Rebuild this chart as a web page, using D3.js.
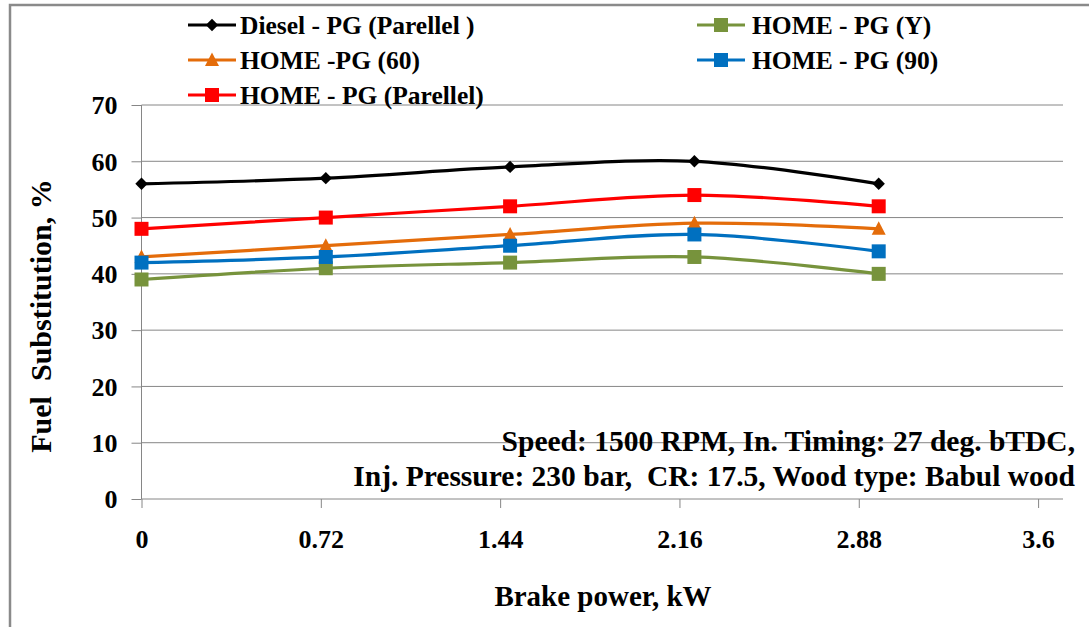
<!DOCTYPE html>
<html>
<head>
<meta charset="utf-8">
<script src="https://cdn.jsdelivr.net/npm/d3@7"></script>
<style>
  html, body { margin: 0; padding: 0; background: #fff; }
  svg { display: block; }
  svg text { font-family: "Liberation Serif", Tinos, "Times New Roman", "DejaVu Serif", serif !important; font-weight: bold; fill: #000; }
</style>
</head>
<body>
<svg id="chart" width="1089" height="627"></svg>
<script>
// Brake power (kW) at each load step
const brakePower = [0, 0.74, 1.48, 2.22, 2.96];

// Fuel substitution (%) for each fuel / gasifier configuration
const dieselPGParallel = [56, 57, 59, 60, 56];
const homePGY          = [39, 41, 42, 43, 40];
const homePG60         = [43, 45, 47, 49, 48];
const homePG90         = [42, 43, 45, 47, 44];
const homePGParallel   = [48, 50, 52, 54, 52];

const seriesNames = ["Diesel - PG (Parellel )", "HOME - PG (Y)", "HOME -PG (60)", "HOME - PG (90)", "HOME - PG (Parellel)"];

// Axis ticks
const xTicks = [0, 0.72, 1.44, 2.16, 2.88, 3.6];
const xTickLabels = ["0", "0.72", "1.44", "2.16", "2.88", "3.6"];
const yTicks = [0, 10, 20, 30, 40, 50, 60, 70];

const series = [
  { name: seriesNames[0], values: dieselPGParallel, color: "#000000", symbol: "diamond" },
  { name: seriesNames[1], values: homePGY,          color: "#77933C", symbol: "square" },
  { name: seriesNames[2], values: homePG60,         color: "#E46C0A", symbol: "triangle" },
  { name: seriesNames[3], values: homePG90,         color: "#0070C0", symbol: "square" },
  { name: seriesNames[4], values: homePGParallel,   color: "#FF0000", symbol: "square" }
];

const FONT = "'Liberation Serif', Tinos, 'Times New Roman', 'DejaVu Serif', serif";
const svg = d3.select("#chart");
const gridColor = "#868686";

// Outer frame
svg.append("rect")
  .attr("x", 10).attr("y", 5)
  .attr("width", 1200).attr("height", 700)
  .attr("fill", "none").attr("stroke", "#8a8a8a").attr("stroke-width", 2.5);

const plot = { left: 141.5, right: 1063, top: 105, bottom: 499 };

const x = d3.scaleLinear().domain([0, 3.7]).range([plot.left, plot.right]);
const y = d3.scaleLinear().domain([0, 70]).range([plot.bottom, plot.top]);

// Horizontal gridlines
svg.append("g")
  .selectAll("line")
  .data(yTicks.filter(d => d > 0))
  .join("line")
  .attr("x1", plot.left).attr("x2", plot.right)
  .attr("y1", d => y(d)).attr("y2", d => y(d))
  .attr("stroke", gridColor).attr("stroke-width", 1);

// Y axis
const yAxis = svg.append("g")
  .attr("transform", `translate(${plot.left},0)`)
  .call(d3.axisLeft(y).tickValues(yTicks).tickSize(10).tickPadding(14).tickFormat(d3.format("d")));
yAxis.attr("font-family", FONT).attr("font-size", 26);
yAxis.select(".domain").attr("stroke", gridColor).attr("d", `M0,${plot.top}V${plot.bottom}`);
yAxis.selectAll(".tick line").attr("stroke", gridColor);
yAxis.selectAll(".tick text").attr("dy", "0.34em");

// X axis
const xAxis = svg.append("g")
  .attr("transform", `translate(0,${plot.bottom})`)
  .call(d3.axisBottom(x).tickValues(xTicks).tickSize(9).tickPadding(22)
    .tickFormat((d, i) => xTickLabels[i]));
xAxis.attr("font-family", FONT).attr("font-size", 26);
xAxis.select(".domain").attr("stroke", gridColor).attr("d", `M${plot.left},0H${plot.right}`);
xAxis.selectAll(".tick line").attr("stroke", gridColor);
xAxis.selectAll(".tick text").attr("dy", "0.71em");

// Axis titles
svg.append("text")
  .attr("x", 603).attr("y", 606)
  .attr("text-anchor", "middle")
  .attr("font-family", FONT)
  .attr("font-size", 29)
  .text("Brake power, kW");

svg.append("text")
  .attr("transform", "translate(51,316) rotate(-90)")
  .attr("text-anchor", "middle")
  .attr("font-family", FONT)
  .attr("font-size", 30)
  .style("white-space", "pre")
  .text("Fuel  Substitution, %");

// Operating conditions note
const note = svg.append("text")
  .attr("text-anchor", "end")
  .attr("font-family", FONT)
  .attr("font-size", 29.5)
  .style("white-space", "pre");
note.append("tspan").attr("x", 1075).attr("y", 451)
  .text("Speed: 1500 RPM, In. Timing: 27 deg. bTDC,");
note.append("tspan").attr("x", 1075).attr("y", 486)
  .text("Inj. Pressure: 230 bar,  CR: 17.5, Wood type: Babul wood");

// Marker shapes
function markerPath(symbol) {
  if (symbol === "diamond") return d3.symbol().type(d3.symbolDiamond2).size(98)();
  if (symbol === "triangle") return "M0,-7.5L7,6L-7,6Z";
  return "M-7,-7H7V7H-7Z";
}

const line = d3.line()
  .x((d, i) => x(brakePower[i]))
  .y(d => y(d))
  .curve(d3.curveCatmullRom.alpha(0.5));

// Series lines and markers
series.forEach(s => {
  const g = svg.append("g");
  g.append("path")
    .datum(s.values)
    .attr("d", line)
    .attr("fill", "none")
    .attr("stroke", s.color)
    .attr("stroke-width", 3.2)
    .attr("stroke-linejoin", "round");
  g.selectAll("path.mk")
    .data(s.values)
    .join("path")
    .attr("class", "mk")
    .attr("transform", (d, i) => `translate(${x(brakePower[i])},${y(d)})`)
    .attr("d", markerPath(s.symbol))
    .attr("fill", s.color);
});

// Legend (two columns, row-major)
const legendPos = [
  { lx: 188, tx: 240, cy: 25 },
  { lx: 697, tx: 752, cy: 25 },
  { lx: 188, tx: 240, cy: 60 },
  { lx: 697, tx: 752, cy: 60 },
  { lx: 188, tx: 240, cy: 95 }
];
series.forEach((s, i) => {
  const p = legendPos[i];
  const g = svg.append("g");
  g.append("line")
    .attr("x1", p.lx).attr("x2", p.lx + 48)
    .attr("y1", p.cy).attr("y2", p.cy)
    .attr("stroke", s.color).attr("stroke-width", 3.2);
  g.append("path")
    .attr("transform", `translate(${p.lx + 24},${p.cy})`)
    .attr("d", markerPath(s.symbol))
    .attr("fill", s.color);
  g.append("text")
    .attr("x", p.tx).attr("y", p.cy)
    .attr("dy", "0.35em")
    .attr("font-family", FONT)
    .attr("font-size", 25.5)
    .style("white-space", "pre")
    .text(s.name);
});
</script>
</body>
</html>
